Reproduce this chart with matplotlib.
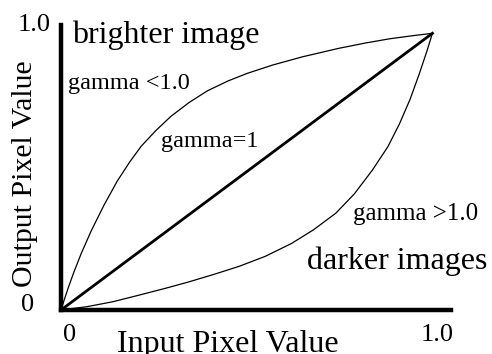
import numpy as np
import matplotlib
matplotlib.use("Agg")
import matplotlib.pyplot as plt

W, H = 492, 354

# gamma < 1.0 curve (brighter)
bright_x = [0.0, 0.010, 0.020, 0.035, 0.055, 0.081, 0.115, 0.151, 0.185,
            0.216, 0.255, 0.296, 0.345, 0.394, 0.450, 0.501, 0.569, 0.650,
            0.749, 0.820, 0.884, 0.945, 1.0]
bright_y = [0.0, 0.042, 0.082, 0.138, 0.206, 0.285, 0.377, 0.465, 0.535,
            0.592, 0.648, 0.700, 0.750, 0.792, 0.828, 0.855, 0.885, 0.915,
            0.946, 0.965, 0.980, 0.991, 1.0]

# gamma > 1.0 curve (darker)
dark_x = [0.0, 0.07, 0.14, 0.205, 0.28, 0.34, 0.41, 0.48, 0.55, 0.62,
          0.68, 0.74, 0.79, 0.838, 0.88, 0.911, 0.94, 0.965, 0.985, 1.0]
dark_y = [0.0, 0.012, 0.030, 0.052, 0.078, 0.100, 0.128, 0.158, 0.194,
          0.240, 0.290, 0.350, 0.420, 0.505, 0.590, 0.672, 0.762, 0.855,
          0.935, 1.0]

# gamma = 1 line
linear_x = [0.0, 1.0]
linear_y = [0.0, 1.0]

plt.rcParams["font.family"] = ["Liberation Serif", "DejaVu Serif"]

fig = plt.figure(figsize=(W / 100, H / 100), dpi=100, facecolor="white")
ax = fig.add_axes([61 / W, 1 - 310 / H, 390 / W, 285 / H])
ax.set_xlim(0, 1.05)
ax.set_ylim(0, 1.03)
ax.set_facecolor("white")

ax.plot(bright_x, bright_y, color="black", linewidth=0.9)
ax.plot(dark_x, dark_y, color="black", linewidth=0.9)
ax.plot(linear_x, linear_y, color="black", linewidth=2.0)

for side in ["top", "right"]:
    ax.spines[side].set_visible(False)
for side in ["left", "bottom"]:
    ax.spines[side].set_linewidth(3.2)
ax.set_xticks([])
ax.set_yticks([])


def label(x, y, s, size, **kw):
    fig.text(x / W, 1 - y / H, s, fontsize=size, color="black", **kw)


# tick-like labels
label(34, 25, "1.0", 19, ha="center", va="center")
label(28, 305, "0", 19, ha="center", va="center")
label(70, 335, "0", 19, ha="center", va="center")
label(437, 335, "1.0", 19, ha="center", va="center")

# axis titles
label(25, 174, "Output Pixel Value", 21.5, ha="center", va="center",
      rotation=90)
label(117, 352, "Input Pixel Value", 23, ha="left", va="baseline")

# annotations
label(72, 43, "brighter image", 23, ha="left", va="baseline")
label(68, 89, "gamma <1.0", 17.5, ha="left", va="baseline")
label(161, 147, "gamma=1", 17.5, ha="left", va="baseline")
label(353, 220, "gamma >1.0", 18, ha="left", va="baseline")
label(307, 269, "darker images", 23, ha="left", va="baseline")

fig.savefig("out.png", dpi=100, facecolor="white")
